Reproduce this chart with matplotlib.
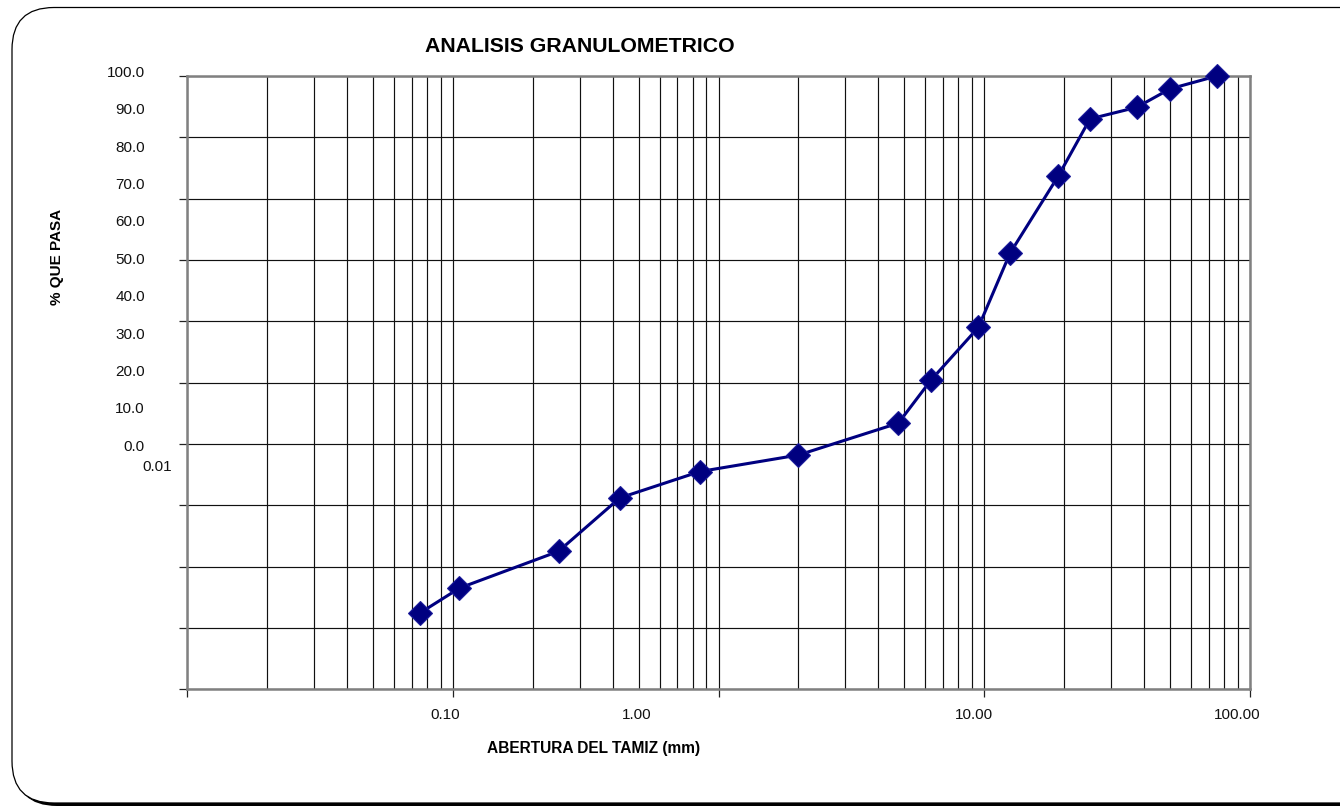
import matplotlib
matplotlib.use("Agg")
import matplotlib.pyplot as plt
from matplotlib.patches import FancyBboxPatch
from matplotlib.transforms import Affine2D
from matplotlib.ticker import LogLocator, NullFormatter

# Sieve openings (mm) and cumulative percent passing
aberturas = [0.075, 0.106, 0.25, 0.425, 0.85, 2.00, 4.75, 6.30, 9.50,
             12.50, 19.00, 25.00, 37.50, 50.00, 75.00]
pasa = [12.4, 16.5, 22.5, 31.2, 35.5, 38.2, 43.4, 50.4, 59.0,
        71.1, 83.7, 93.0, 94.9, 97.9, 100.0]

# Axis texts
y_labels = ["100.0", "90.0", "80.0", "70.0", "60.0", "50.0",
            "40.0", "30.0", "20.0", "10.0", "0.0"]
x_labels = ["0.10", "1.00", "10.00", "100.00"]
titulo = "ANALISIS GRANULOMETRICO"
eje_x = "ABERTURA DEL TAMIZ (mm)"
eje_y = "% QUE PASA"

plt.rcParams['font.family'] = ['Liberation Sans', 'DejaVu Sans']

W, H = 1340, 806
fig = plt.figure(figsize=(W / 100, H / 100), dpi=100)
fig.patch.set_facecolor('white')

# Rounded chart-area frame with a drop shadow (pixel coordinates, y down)
flip = Affine2D().scale(1, -1).translate(0, H)
shadow = FancyBboxPatch((15, 10), 1400, 796, boxstyle="round,pad=0,rounding_size=42",
                        transform=flip, facecolor='black', edgecolor='black', lw=0,
                        zorder=-3)
frame = FancyBboxPatch((12, 7.5), 1400, 795.5, boxstyle="round,pad=0,rounding_size=42",
                       transform=flip, facecolor='white', edgecolor='black', lw=0.9,
                       zorder=-2)
fig.add_artist(shadow)
fig.add_artist(frame)

# Plot area
L, T, R, B = 187, 76, 1250, 689.3
ax = fig.add_axes([L / W, 1 - B / H, (R - L) / W, (B - T) / H])
ax.set_zorder(1)
ax.set_facecolor('white')
ax.set_xscale('log')
ax.set_xlim(0.01, 100)
ax.set_ylim(0, 100)

ax.xaxis.set_major_locator(LogLocator(base=10))
ax.xaxis.set_minor_locator(LogLocator(base=10, subs=range(2, 10)))
ax.xaxis.set_major_formatter(NullFormatter())
ax.xaxis.set_minor_formatter(NullFormatter())
ax.set_yticks(range(0, 101, 10))
ax.set_yticklabels([])

ax.tick_params(axis='both', which='major', direction='out', length=5.5,
               width=0.9, color='#222222')
ax.tick_params(axis='x', which='minor', length=0)

ax.grid(which='major', axis='both', color='#111111', lw=0.85)
ax.grid(which='minor', axis='x', color='#111111', lw=0.85)
ax.set_axisbelow(True)

for s in ax.spines.values():
    s.set_color('#808080')
    s.set_linewidth(1.8)
    s.set_zorder(3)

ax.plot(aberturas, pasa, color='#000080', lw=2.2, marker='D', ms=12.5,
        mfc='#000080', mec='#1a1a9a', mew=0.8, zorder=6, clip_on=False)

# Value labels of the percent axis
def fig_xy(px, py):
    return px / W, 1 - py / H

for i, lab in enumerate(y_labels):
    fx, fy = fig_xy(145, 72.7 + i * 37.4)
    fig.text(fx, fy, lab, ha='right', va='center', fontsize=11, color='#111111')

# Opening labels
for lab, cx in zip(x_labels, [444.7, 637, 974, 1237.5]):
    fx, fy = fig_xy(cx, 715)
    fig.text(fx, fy, lab, ha='center', va='center', fontsize=11, color='#111111')

fx, fy = fig_xy(157, 467)
fig.text(fx, fy, "0.01", ha='center', va='center', fontsize=11, color='#111111')

fx, fy = fig_xy(580, 46)
fig.text(fx, fy, titulo, ha='center', va='center', fontsize=15.3, fontweight='bold')
fx, fy = fig_xy(594, 748)
fig.text(fx, fy, eje_x, ha='center', va='center', fontsize=11.2, fontweight='bold')
fx, fy = fig_xy(57, 257)
fig.text(fx, fy, eje_y, ha='center', va='center', fontsize=11, fontweight='bold',
         rotation=90)

fig.savefig("out.png", dpi=100)
